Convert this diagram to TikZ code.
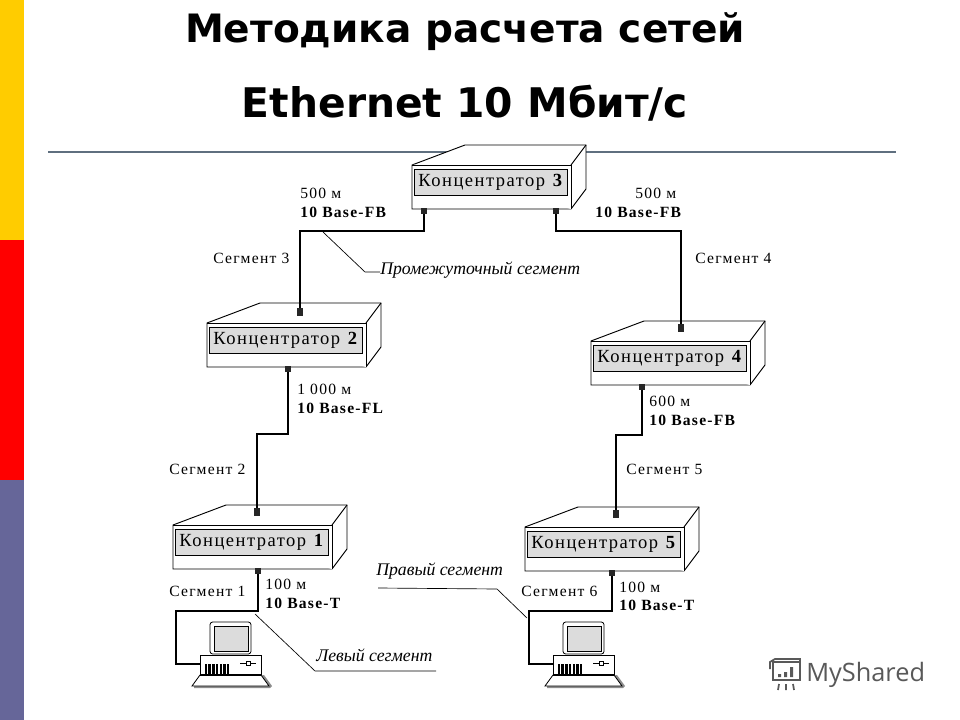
\documentclass[tikz,border=0pt]{standalone}
\usepackage{fontspec}
\setmainfont{Liberation Serif}
\newfontfamily\titlefont{DejaVu Sans}
\newfontfamily\logofont{Open Sans}
\newfontfamily\spaced[LetterSpace=8]{Liberation Serif}
\definecolor{barY}{HTML}{FFCC00}
\definecolor{barR}{HTML}{FF0000}
\definecolor{barB}{HTML}{666699}
\definecolor{rulec}{HTML}{5F6F7F}
\definecolor{lab}{HTML}{DCDCDC}
\tikzset{
  hubline/.style={draw=black,line width=0.7pt,fill=white},
  hublabel/.style={draw=black,line width=0.5pt,fill=lab,minimum width=115pt,minimum height=19.5pt,inner sep=0pt,font=\spaced\fontsize{13.9}{15}\selectfont},
  portnode/.style={fill=black!85,minimum width=4.5pt,minimum height=4pt,inner sep=0pt},
  porttop/.style={fill=black!85,minimum width=4.5pt,minimum height=6pt,inner sep=0pt},
  cable/.style={line width=2pt,line join=miter},
  leader/.style={line width=0.5pt},
  txt/.style={inner sep=0pt,anchor=west,font=\spaced\fontsize{11.7}{13}\selectfont},
  itxt/.style={inner sep=0pt,anchor=west,font=\itshape\fontsize{13.3}{15}\selectfont},
  titletxt/.style={inner sep=0pt,font=\titlefont\bfseries\fontsize{29.3}{32}\selectfont,text=black},
  titletxtb/.style={inner sep=0pt,font=\titlefont\bfseries\fontsize{30.6}{32}\selectfont,text=black}
}
\newcommand{\hubbox}[4]{% name, left, top, number
  \draw[hubline] (#2,#3) -- ++(53,-20) -- ++(106,0) -- ++(15,0) -- ++(0,44) -- ++(-15,20) -- ++(-159,0) -- cycle;
  \draw[hubline] (#2,#3) -- ++(159,0) -- ++(0,44);
  \draw[hubline,fill=none] ({#2+159},#3) -- ++(15,-20);
  \node[hublabel] (#1) at ({#2+79},{#3+17}) {Концентратор \textbf{#4}};
}
\newcommand{\pcicon}[1]{% x shift
  \begin{scope}[shift={(#1,0)}]
    \draw[line width=0.6pt,fill=white,rounded corners=2pt] (210,622) rectangle (251,654);
    \draw[line width=0.5pt,fill=lab] (214,626) rectangle (248,651);
    \draw[line width=0.6pt,fill=white] (200,655) rectangle (261,675);
    \fill[black] (205,664) rectangle (229,674);
    \foreach \i in {0,...,5} {\fill[white] ({207+\i*3.8},664) rectangle ++(1.2,10);}
    \draw[line width=0.5pt] (240,663) -- (256,663);
    \draw[line width=0.5pt,fill=white] (246,661) rectangle (250,665);
    \fill[black!45] (264,675) -- (272,686) -- (270,688) -- (194,688) -- (194,686) -- cycle;
    \draw[line width=0.6pt,fill=white] (200,675) -- (261,675) -- (269,686) -- (192,686) -- cycle;
    \draw[line width=1.2pt] (200,675) -- (261,675);
  \end{scope}
}
\begin{document}
\begin{tikzpicture}[x=0.75pt,y=-0.75pt]
\useasboundingbox (0,0) rectangle (960,720);
\fill[white] (0,0) rectangle (960,720);
\fill[barY] (0,0) rectangle (24,240);
\fill[barR] (0,240) rectangle (24,480);
\fill[barB] (0,480) rectangle (24,720);
\node[titletxt] (t1) at (465,32) {Методика расчета сетей};
\node[titletxtb] (t2) at (465,103) {Ethernet 10 Мбит/с};
\draw[rulec,line width=1.1pt] (48,152) -- (896,152);

\hubbox{h3}{412}{165}{3}
\hubbox{h2}{207}{323}{2}
\hubbox{h4}{591}{341}{4}
\hubbox{h1}{173}{525}{1}
\hubbox{h5}{525}{527}{5}

\node[portnode] (p3l) at (424,211) {};
\node[portnode] (p3r) at (556,211) {};
\node[porttop] (p2t) at (300,312) {};
\node[portnode] (p2b) at (288,369) {};
\node[porttop] (p4t) at (681,328) {};
\node[portnode] (p4b) at (642,387) {};
\node[porttop] (p1t) at (257,512) {};
\node[portnode] (p1b) at (258,571) {};
\node[porttop] (p5t) at (616,514) {};
\node[portnode] (p5b) at (612,573) {};

\pcicon{0}
\pcicon{353}
\coordinate (pc1) at (200,664);
\coordinate (pc2) at (553,664);

\draw[cable] (p3l) -- (424,231) -| (p2t);
\draw[cable] (p3r) -- (556,231) -| (p4t);
\draw[cable] (p2b) -- (288,434) -| (p1t);
\draw[cable] (p4b) -- (642,435) -| (p5t);
\draw[cable] (p1b) -- (258,611) -- (176,611) -- (176,664) -- (pc1);
\draw[cable] (p5b) -- (612,611) -- (529,611) -- (529,664) -- (pc2);

\draw[leader] (323,232) -- (365,272) -- (380,272);
\draw[leader] (255,614) -- (315,671) -- (436,671);
\draw[leader] (378,588) -- (497,589) -- (527,618);

\node[txt] (a1) at (300,193) {500 м};
\node[txt] (a2) at (300,212) {\textbf{10 Base-FB}};
\node[txt] (a3) at (635,193) {500 м};
\node[txt] (a4) at (595,212) {\textbf{10 Base-FB}};
\node[txt] (a5) at (213,258) {Сегмент 3};
\node[txt] (a6) at (695,258) {Сегмент 4};
\node[itxt] (a7) at (380,270) {Промежуточный сегмент};
\node[txt] (a8) at (297,389) {1 000 м};
\node[txt] (a9) at (297,408) {\textbf{10 Base-FL}};
\node[txt] (a10) at (649,401) {600 м};
\node[txt] (a11) at (649,420) {\textbf{10 Base-FB}};
\node[txt] (a12) at (169,469) {Сегмент 2};
\node[txt] (a13) at (626,469) {Сегмент 5};
\node[txt] (a14) at (169,591) {Сегмент 1};
\node[txt] (a15) at (265,584) {100 м};
\node[txt] (a16) at (265,603) {\textbf{10 Base-T}};
\node[txt] (a17) at (521,591) {Сегмент 6};
\node[txt] (a18) at (619,587) {100 м};
\node[txt] (a19) at (619,605) {\textbf{10 Base-T}};
\node[itxt] (a20) at (376,571) {Правый сегмент};
\node[itxt] (a21) at (316,655) {Левый сегмент};

% logo
\begin{scope}[draw=black!65,line width=1.3pt]
  \draw (773,662) rectangle (800,680);
  \draw (770,669) -- (770,662) -- (775,659) -- (800,659) -- (800,662);
  \draw (779,684) -- (778,690) (786,684) -- (786,690) (793,684) -- (794,690);
  \fill[black!65] (778,674) rectangle ++(3,3) (784,672) rectangle ++(3,5) (790,667) rectangle ++(3,10);
\end{scope}
\node[inner sep=0pt,anchor=west,text=black!65,font=\logofont\fontsize{19}{21}\selectfont] (logo) at (806,675) {MyShared};
\end{tikzpicture}
\end{document}
